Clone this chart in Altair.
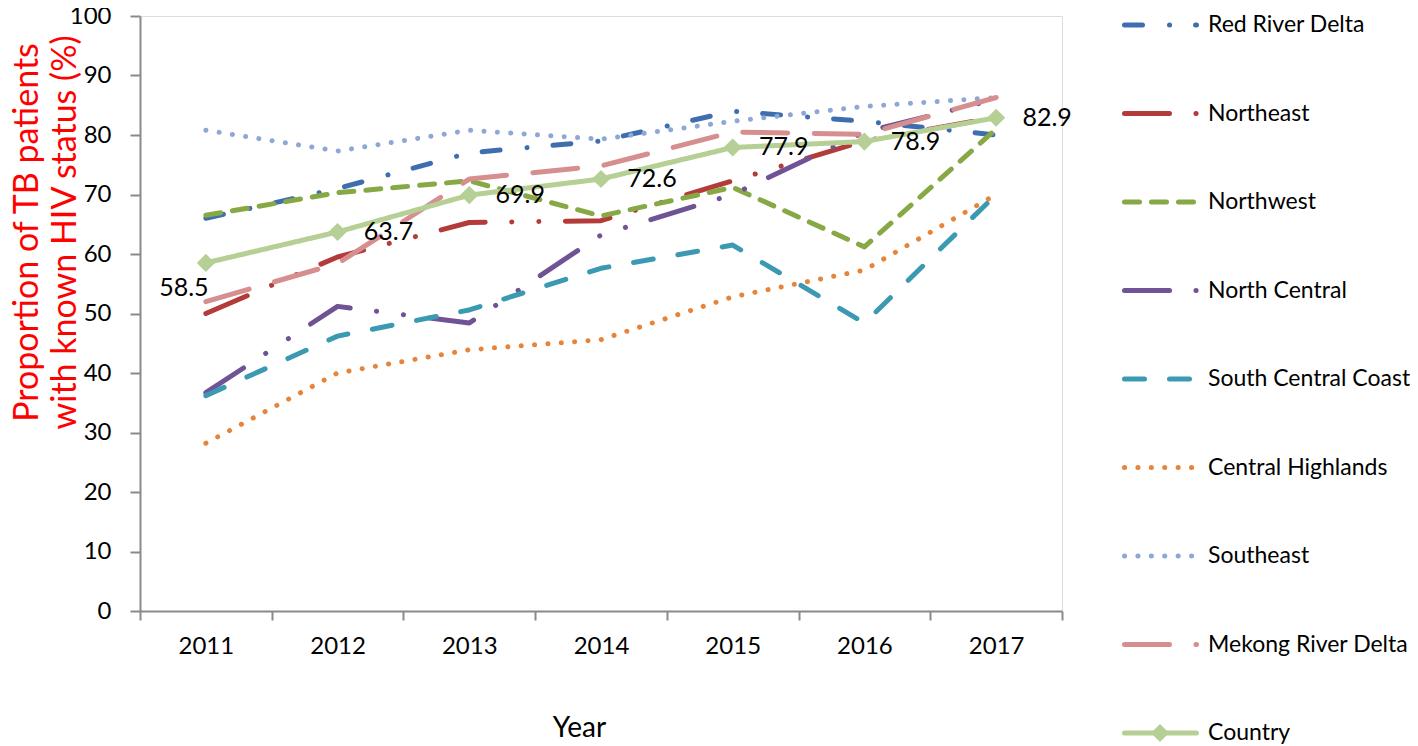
import altair as alt
import pandas as pd

years = [2011, 2012, 2013, 2014, 2015, 2016, 2017]

series_names = [
    "Red River Delta",
    "Northeast",
    "Northwest",
    "North Central",
    "South Central Coast",
    "Central Highlands",
    "Southeast",
    "Mekong River Delta",
    "Country",
]

red_river_delta = [66.0, 71.0, 77.0, 79.0, 84.0, 82.3, 80.0]
northeast = [50.0, 59.5, 65.3, 65.6, 72.3, 79.0, 83.0]
northwest = [66.5, 70.3, 72.3, 66.4, 71.2, 61.2, 81.0]
north_central = [36.7, 51.2, 48.4, 63.2, 70.0, 80.5, 86.0]
south_central_coast = [36.2, 46.2, 50.6, 57.6, 61.5, 48.4, 70.0]
central_highlands = [28.2, 40.0, 43.9, 45.6, 52.8, 57.3, 70.0]
southeast = [80.8, 77.3, 80.8, 79.3, 82.3, 84.8, 86.3]
mekong_river_delta = [52.0, 58.4, 72.6, 74.8, 80.5, 80.1, 86.3]
country = [58.5, 63.7, 69.9, 72.6, 77.9, 78.9, 82.9]

all_values = [
    red_river_delta, northeast, northwest, north_central, south_central_coast,
    central_highlands, southeast, mekong_river_delta, country,
]

colors = [
    "#3E6EAF", "#B33B3A", "#86A845", "#6F5395", "#3B9AB2",
    "#E6853A", "#8EA8D6", "#D68E8F", "#B5CF94",
]

dashes = [
    [18, 27, 0.1, 26],
    [45, 26.5, 0.1, 27, 0.1, 26.5],
    [15, 12],
    [45, 26.5, 0.1, 27, 0.1, 26.5],
    [20, 25],
    [0.1, 13.3],
    [0.1, 13.3],
    [45, 26.5],
    [1, 0],
]

rows = []
for name, vals in zip(series_names, all_values):
    for yr, v in zip(years, vals):
        rows.append({"year": yr, "series": name, "value": v})
df = pd.DataFrame(rows)
country_df = pd.DataFrame({"year": years, "value": country})
legend_df = pd.DataFrame({"series": series_names})

FONT = "Lato"
AXIS_GRAY = "#8a8a8a"
COUNTRY_COLOR = colors[-1]

xenc = alt.X(
    "year:O",
    scale=alt.Scale(type="band", paddingInner=0, paddingOuter=0),
    axis=alt.Axis(
        title="Year",
        titleFontSize=28,
        titleFont=FONT,
        titleFontWeight="normal",
        titleColor="black",
        titleX=439,
        titleY=125,
        titleAlign="center",
        titleBaseline="alphabetic",
        labelAngle=0,
        labelFontSize=24,
        labelFont=FONT,
        labelColor="black",
        labelPadding=14,
        tickBand="extent",
        tickSize=9,
        tickWidth=2,
        tickColor=AXIS_GRAY,
        domainColor=AXIS_GRAY,
        domainWidth=2,
        grid=False,
    ),
)

yenc = alt.Y(
    "value:Q",
    scale=alt.Scale(domain=[0, 100], nice=False),
    axis=alt.Axis(
        title=["Proportion of TB patients", "with known HIV status (%)"],
        titleColor="#FF0000",
        titleFontSize=34,
        titleFont=FONT,
        titleFontWeight="normal",
        titleAngle=270,
        titleX=-113,
        titleY=216,
        titleAlign="center",
        titleBaseline="middle",
        titleLineHeight=38,
        values=list(range(0, 101, 10)),
        labelFontSize=24,
        labelFont=FONT,
        labelColor="black",
        labelPadding=19,
        tickSize=10,
        tickWidth=2,
        tickColor=AXIS_GRAY,
        domainColor=AXIS_GRAY,
        domainWidth=2,
        grid=False,
    ),
)

color = alt.Color("series:N", scale=alt.Scale(domain=series_names, range=colors), legend=None)
dash = alt.StrokeDash("series:N", scale=alt.Scale(domain=series_names, range=dashes), legend=None)

lines = alt.Chart(df).mark_line(
    strokeWidth=5, strokeCap="round", strokeJoin="round"
).encode(x=xenc, y=yenc, color=color, strokeDash=dash)

diamonds = alt.Chart(country_df).mark_point(
    shape="diamond", filled=True, size=330, opacity=1, color=COUNTRY_COLOR
).encode(x=xenc, y=yenc)

labels_rest = alt.Chart(country_df).transform_filter("datum.year > 2011").mark_text(
    dx=51, fontSize=25, font=FONT, align="center", baseline="middle", color="black"
).encode(x=xenc, y=yenc, text=alt.Text("value:Q", format=".1f"))

label_first = alt.Chart(country_df).transform_filter("datum.year == 2011").mark_text(
    dx=-22, dy=25, fontSize=25, font=FONT, align="center", baseline="middle", color="black"
).encode(x=xenc, y=yenc, text=alt.Text("value:Q", format=".1f"))

plot = alt.layer(lines, diamonds, labels_rest, label_first)

legend_y = alt.Y(
    "series:N",
    scale=alt.Scale(type="point", domain=series_names, range=[9, 717], padding=0),
    axis=None,
)

leg_lines = alt.Chart(legend_df).mark_rule(strokeWidth=5, strokeCap="round").encode(
    x=alt.value(984.5), x2=alt.value(1056.5), y=legend_y, color=color, strokeDash=dash
)
leg_diamond = alt.Chart(legend_df).transform_filter("datum.series == 'Country'").mark_point(
    shape="diamond", filled=True, size=330, opacity=1, color=COUNTRY_COLOR
).encode(x=alt.value(1020), y=legend_y)
leg_text = alt.Chart(legend_df).mark_text(
    align="left", baseline="middle", fontSize=23, font=FONT, color="black"
).encode(x=alt.value(1068), y=legend_y, text="series:N")

legend = alt.layer(leg_lines, leg_diamond, leg_text)

chart = alt.layer(plot, legend).resolve_scale(y="independent").properties(
    width=922,
    height=595,
    autosize=alt.AutoSizeParams(type="none"),
    padding={"left": 132, "top": 8, "right": 348, "bottom": 135},
).configure_view(stroke=None).configure(font=FONT, background="white")

chart.save("out.html", embed_options={"renderer": "svg", "actions": False})
